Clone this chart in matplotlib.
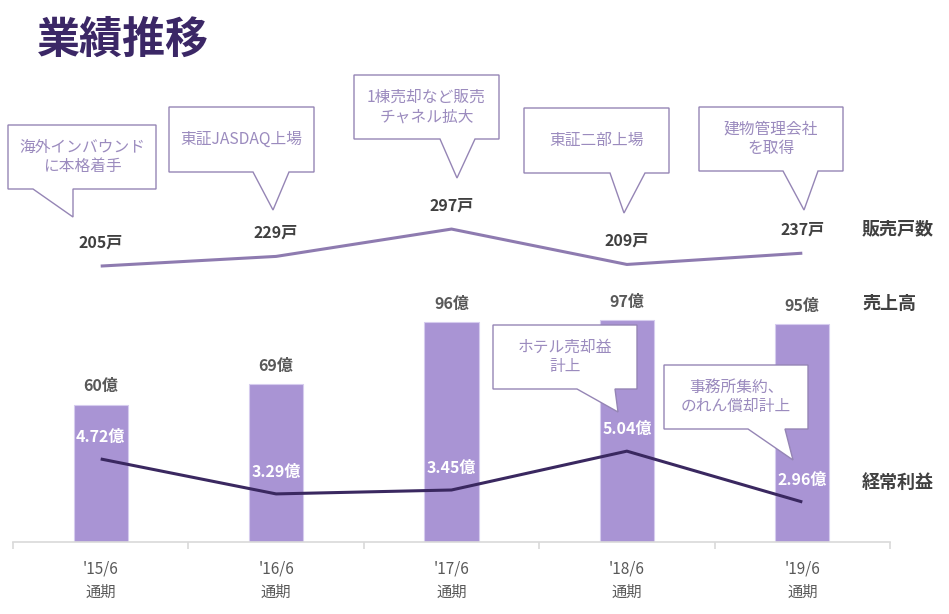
import matplotlib
matplotlib.use('Agg')
import matplotlib.pyplot as plt
from matplotlib.patches import Polygon

plt.rcParams['font.family'] = ['Noto Sans CJK JP', 'DejaVu Sans']

periods = ["'15/6", "'16/6", "'17/6", "'18/6", "'19/6"]
sales = [60, 69, 96, 97, 95]            # 売上高 (億)
units = [205, 229, 297, 209, 237]       # 販売戸数 (戸)
profit = [4.72, 3.29, 3.45, 5.04, 2.96]  # 経常利益 (億)

W, H = 949, 614
fig = plt.figure(figsize=(W / 100, H / 100), dpi=100)


def fx(x):
    return x / W


def fy(y):
    return 1 - y / H


ax = fig.add_axes([fx(13), fy(542), fx(890) - fx(13), fy(100) - fy(542)])
x = list(range(len(periods)))

ax.bar(x, sales, width=0.31, color='#A994D4', edgecolor='#D6CCEE', linewidth=0.8, zorder=2)
ax.set_xlim(-0.5, 4.5)
ax.set_ylim(0, 192.9)
for i, v in enumerate(sales):
    ax.annotate(f'{v}億', (i, v), xytext=(0, 13), textcoords='offset points',
                ha='center', va='center', fontsize=11.5, fontweight='bold', color='#595959')

# 販売戸数
ax_u = ax.twinx()
ax_u.plot(x, units, color='#8E7BB0', lw=2.2, solid_capstyle='butt')
ax_u.set_ylim(-481.1, 617.9)
for i, v in enumerate(units):
    ax_u.annotate(f'{v}戸', (i, v), xytext=(0, 17), textcoords='offset points',
                  ha='center', va='center', fontsize=11.5, fontweight='bold', color='#404040')

# 経常利益
ax_p = ax.twinx()
ax_p.plot(x, profit, color='#3A2860', lw=2.2, solid_capstyle='butt')
ax_p.set_ylim(1.322, 19.41)
for i, v in enumerate(profit):
    ax_p.annotate(f'{v:.2f}億', (i, v), xytext=(0, 16), textcoords='offset points',
                  ha='center', va='center', fontsize=11.5, fontweight='bold', color='white')

for a in (ax, ax_u, ax_p):
    for s in a.spines.values():
        s.set_visible(False)
    a.set_yticks([])

ax.spines['bottom'].set_visible(True)
ax.spines['bottom'].set_color('#D9D9D9')
ax.spines['bottom'].set_linewidth(1.2)
ax.set_xticks(x)
ax.set_xticklabels([p + '\n通期' for p in periods], fontsize=11, color='#595959', linespacing=1.5)
ax.tick_params(axis='x', which='major', length=0, pad=13)
ax.set_xticks([i - 0.5 for i in range(len(periods) + 1)], minor=True)
ax.tick_params(axis='x', which='minor', length=5, color='#D9D9D9', width=1.2)

# title and series names
fig.text(fx(37), fy(40), '業績推移', fontsize=31, fontweight='bold', color='#3B2766',
         ha='left', va='center')
for label, yy in [('販売戸数', 229), ('売上高', 303), ('経常利益', 482)]:
    fig.text(fx(862), fy(yy), label, fontsize=13, fontweight='bold', color='#404040',
             ha='left', va='center')

# callouts: box (left, top, right, bottom), tail base (x1, x2), tip (x, y)
callouts = [
    ('海外インバウンド\nに本格着手', (8, 125, 156, 189), (33, 73), (73, 217)),
    ('東証JASDAQ上場', (169, 107, 314, 172), (253, 289), (273, 210)),
    ('1棟売却など販売\nチャネル拡大', (354, 75, 499, 139), (440, 475), (457, 178)),
    ('東証二部上場', (524, 108, 669, 173), (610, 645), (624, 213)),
    ('建物管理会社\nを取得', (699, 107, 843, 171), (783, 818), (804, 210)),
    ('ホテル売却益\n計上', (493, 325, 637, 389), (577, 615), (618, 412)),
    ('事務所集約、\nのれん償却計上', (664, 365, 808, 429), (748, 785), (793, 460)),
]
for text, (l, t, r, b), (b1, b2), (tx, ty) in callouts:
    pts = [(l, t), (r, t), (r, b), (b2, b), (tx, ty), (b1, b), (l, b)]
    poly = Polygon([(fx(px), fy(py)) for px, py in pts], closed=True, transform=fig.transFigure,
                   facecolor='white', edgecolor='#9585B5', linewidth=1.0, zorder=5)
    fig.add_artist(poly)
    fig.text(fx((l + r) / 2), fy((t + b) / 2), text, fontsize=11.3, color='#9B8BBE',
             ha='center', va='center', linespacing=1.2, zorder=6)

fig.savefig('out.png', dpi=100)
